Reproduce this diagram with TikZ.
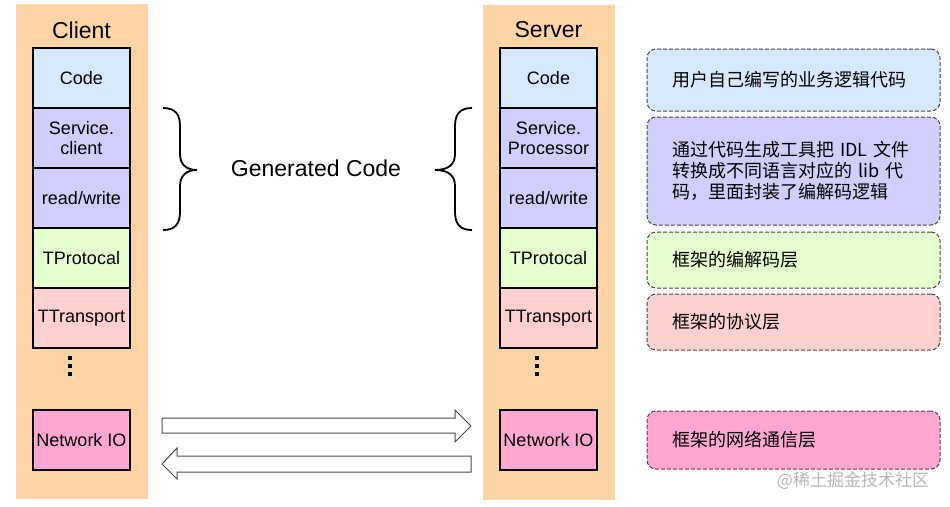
\documentclass[tikz,border=0pt]{standalone}
\usepackage{fontspec}
\setmainfont{Liberation Sans}
\newfontfamily\cjk{Noto Sans CJK SC}
\definecolor{peach}{RGB}{252,212,166}
\definecolor{codeblue}{RGB}{214,232,252}
\definecolor{svc}{RGB}{208,206,252}
\definecolor{proto}{RGB}{230,255,206}
\definecolor{trans}{RGB}{255,208,208}
\definecolor{net}{RGB}{255,166,210}
\definecolor{dashgray}{RGB}{70,70,70}
\begin{document}
\begin{tikzpicture}[x=1pt,y=-1pt,
  every node/.style={inner sep=0pt,outer sep=0pt},
  bgpanel/.style={fill=peach,draw=none,minimum width=132pt,minimum height=495pt},
  layer/.style={draw=black,line width=1.5pt,minimum width=97pt,minimum height=60pt,
    font=\fontsize{18}{20}\selectfont,align=center},
  title/.style={font=\fontsize{23}{26}\selectfont},
  note/.style={draw=dashgray,dash pattern=on 4pt off 2pt,line width=1pt,rounded corners=9pt,
    minimum width=293pt,inner xsep=25pt,text width=243pt,align=left,
    font=\cjk\fontsize{18}{21}\selectfont},
  brace/.style={draw=black,line width=1.8pt},
  blockarrow/.style={draw=black!70,fill=white,line width=1pt},
  dotmark/.style={fill=black}
]
\fill[white] (0,0) rectangle (950,506);
\useasboundingbox (0,0) rectangle (950,506);

% panels
\node[bgpanel] (cbg) at (82,251.5) {};
\node[bgpanel] (sbg) at (548.5,252) {};

% titles
\node[title] (ct) at (81.5,30) {Client};
\node[title] (st) at (548.5,30) {Server};

% client stack
\node[layer,fill=codeblue] (c1) at (81.5,78) {Code};
\node[layer,fill=svc] (c2) at (81.5,138) {Service.\\client};
\node[layer,fill=svc] (c3) at (81.5,198) {read/write};
\node[layer,fill=proto] (c4) at (81.5,258) {TProtocal};
\node[layer,fill=trans] (c5) at (81.5,318) {TTransport};
\node[layer,fill=net] (c6) at (81.5,440) {Network IO};

% server stack
\node[layer,fill=codeblue] (s1) at (548.5,78) {Code};
\node[layer,fill=svc] (s2) at (548.5,138) {Service.\\Processor};
\node[layer,fill=svc] (s3) at (548.5,198) {read/write};
\node[layer,fill=proto] (s4) at (548.5,258) {TProtocal};
\node[layer,fill=trans] (s5) at (548.5,318) {TTransport};
\node[layer,fill=net] (s6) at (548.5,440) {Network IO};

% dots
\foreach \yy in {356,364,372}{
  \fill[dotmark] (67.5,\yy) rectangle +(4,4);
  \fill[dotmark] (534.5,\yy) rectangle +(4,4);
}

% braces
\draw[brace] (163,108) .. controls (175,108) and (180,114) .. (180,126) -- (180,154)
  .. controls (180,164) and (186,170) .. (197,170)
  .. controls (186,170) and (180,176) .. (180,186) -- (180,212)
  .. controls (180,224) and (175,230) .. (163,230);
\draw[brace] (472,108) .. controls (460,108) and (455,114) .. (455,126) -- (455,154)
  .. controls (455,164) and (449,170) .. (435,170)
  .. controls (449,170) and (455,176) .. (455,186) -- (455,212)
  .. controls (455,224) and (460,230) .. (472,230);
\node[title] (gen) at (316,168) {Generated Code};

% block arrows
\draw[blockarrow] (162,418) -- (455,418) -- (455,410) -- (471,426) -- (455,442) -- (455,433) -- (162,433) -- cycle;
\draw[blockarrow] (471,456) -- (177,456) -- (177,448) -- (162,464) -- (177,479) -- (177,472) -- (471,472) -- cycle;

% notes
\node[note,fill=codeblue,minimum height=62pt] (d1) at (793.5,80) {用户自己编写的业务逻辑代码};
\node[note,fill=svc,minimum height=108pt] (d2) at (793.5,171) {通过代码生成工具把 IDL 文件\\转换成不同语言对应的 lib 代\\码，里面封装了编解码逻辑};
\node[note,fill=proto,minimum height=56pt] (d3) at (793.5,260) {框架的编解码层};
\node[note,fill=trans,minimum height=56pt] (d4) at (793.5,322) {框架的协议层};
\node[note,fill=net,minimum height=58pt] (d5) at (793.5,440) {框架的网络通信层};

% watermark
\node[font=\cjk\fontsize{17}{20}\selectfont,text=black!28] (wm) at (853,481) {@稀土掘金技术社区};
\end{tikzpicture}
\end{document}
